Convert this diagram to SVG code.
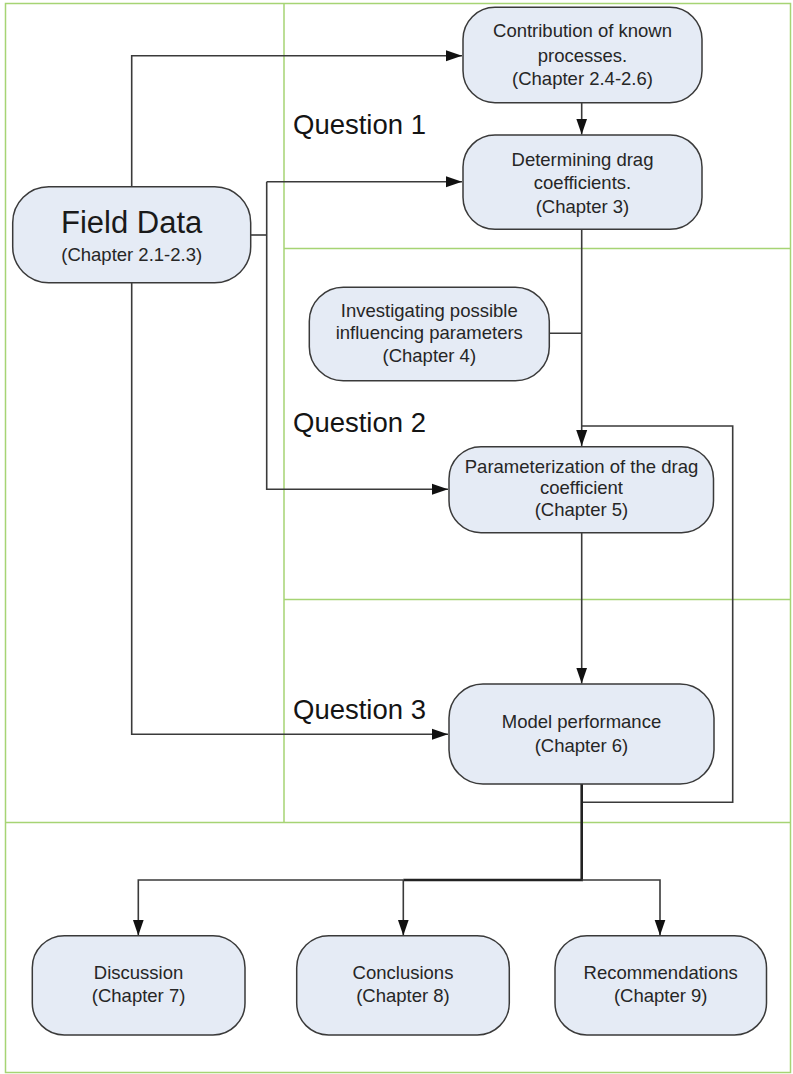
<svg xmlns="http://www.w3.org/2000/svg" width="793" height="1074" viewBox="0 0 793 1074">
<style>
.panel{fill:none;stroke:#a6d474;stroke-width:1.5}
.node rect{fill:#e5ebf5;stroke:#3a3a3a;stroke-width:1.5}
.node text{font-family:"Liberation Sans",Arial,sans-serif;font-size:18.5px;fill:#262626;text-anchor:middle}
.q{font-family:"Liberation Sans",Arial,sans-serif;font-size:27.5px;fill:#141414}
.conn path{fill:none;stroke:#3a3a3a;stroke-width:1.6}
.conn path.thick{stroke-width:2.6;stroke:#222}
</style>
<defs>
<marker id="arr" markerUnits="userSpaceOnUse" markerWidth="17" markerHeight="12" refX="16" refY="6" orient="auto">
<path d="M0,0.5 L16,6 L0,11.5 z" fill="#111"/>
</marker>
</defs>
<rect width="793" height="1074" fill="#ffffff"/>
<g id="panels">
<rect class="panel" x="5.5" y="3.5" width="785" height="1069"/>
<path class="panel" d="M284,3.5 V822.5 M284,248.5 H790.5 M284,599.5 H790.5 M5.5,822.5 H790.5"/>
</g>
<g id="labels">
<text class="q" x="293" y="134">Question 1</text>
<text class="q" x="293" y="432">Question 2</text>
<text class="q" x="293" y="719">Question 3</text>
</g>
<g id="connectors" class="conn">
<path d="M131.7,186.7 V55.7 H462" marker-end="url(#arr)"/>
<path d="M250.7,235 H266.7"/>
<path d="M266.7,181.7 H462" marker-end="url(#arr)"/>
<path d="M266.7,181.7 V489.3 H448" marker-end="url(#arr)"/>
<path d="M131.7,282.7 V734.3 H448" marker-end="url(#arr)"/>
<path d="M581.7,102.7 V134.5" marker-end="url(#arr)"/>
<path d="M581.7,229.3 V446" marker-end="url(#arr)"/>
<path d="M549.3,333.3 H581.7"/>
<path d="M581.7,802.3 H732.7 V426 H581.7"/>
<path d="M581.7,532.7 V683.5" marker-end="url(#arr)"/>
<path class="thick" d="M581.7,784 V880 H403.3"/>
<path d="M403.3,880 H138.3 V935.5" marker-end="url(#arr)"/>
<path d="M403.3,880 V935.5" marker-end="url(#arr)"/>
<path d="M581.7,880 H660 V935.5" marker-end="url(#arr)"/>
</g>
<g id="field-data" class="node">
<rect x="12.7" y="186.7" width="238" height="96" rx="36" ry="36"/>
<text x="131.7" y="233" style="font-size:31px;fill:#1a1a1a">Field Data</text>
<text x="131.7" y="261">(Chapter 2.1-2.3)</text>
</g>
<g id="contribution" class="node">
<rect x="463" y="7.3" width="239" height="95.4" rx="32" ry="32"/>
<text x="582.5" y="37">Contribution of known</text>
<text x="582.5" y="61.5">processes.</text>
<text x="582.5" y="85">(Chapter 2.4-2.6)</text>
</g>
<g id="determining" class="node">
<rect x="463" y="135" width="239" height="94.3" rx="32" ry="32"/>
<text x="582.5" y="165.5">Determining drag</text>
<text x="582.5" y="189">coefficients.</text>
<text x="582.5" y="212.5">(Chapter 3)</text>
</g>
<g id="investigating" class="node">
<rect x="309.3" y="287.3" width="240" height="93.4" rx="34" ry="34"/>
<text x="429.3" y="316.7">Investigating possible</text>
<text x="429.3" y="339.3">influencing parameters</text>
<text x="429.3" y="361.7">(Chapter 4)</text>
</g>
<g id="parameterization" class="node">
<rect x="449" y="446.7" width="264.5" height="86" rx="32" ry="32"/>
<text x="581.5" y="472.7">Parameterization of the drag</text>
<text x="581.5" y="494.3">coefficient</text>
<text x="581.5" y="516">(Chapter 5)</text>
</g>
<g id="model-performance" class="node">
<rect x="449" y="684" width="265" height="100" rx="34" ry="34"/>
<text x="581.5" y="728.3">Model performance</text>
<text x="581.5" y="751.7">(Chapter 6)</text>
</g>
<g id="discussion" class="node">
<rect x="32.3" y="935.7" width="212.7" height="99.3" rx="32" ry="32"/>
<text x="138.6" y="979.3">Discussion</text>
<text x="138.6" y="1001.7">(Chapter 7)</text>
</g>
<g id="conclusions" class="node">
<rect x="296.7" y="935.7" width="212.6" height="99.3" rx="32" ry="32"/>
<text x="403" y="979.3">Conclusions</text>
<text x="403" y="1001.7">(Chapter 8)</text>
</g>
<g id="recommendations" class="node">
<rect x="555" y="935.7" width="211.5" height="99.3" rx="32" ry="32"/>
<text x="660.7" y="979.3">Recommendations</text>
<text x="660.7" y="1001.7">(Chapter 9)</text>
</g>
</svg>
